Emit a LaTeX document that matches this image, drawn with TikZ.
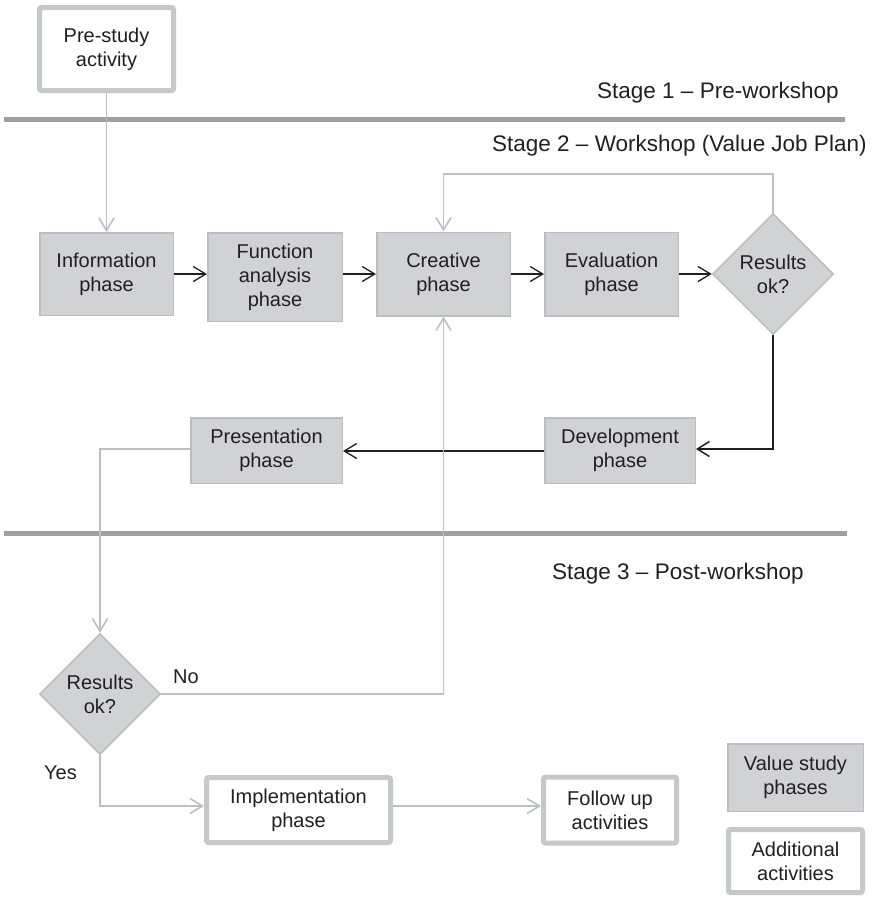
\documentclass[tikz,border=0pt]{standalone}
\usepackage{fontspec}
\setmainfont{Liberation Sans}
\usetikzlibrary{shapes.geometric,arrows.meta}

\definecolor{ink}{HTML}{231F20}
\definecolor{phasefill}{HTML}{D1D2D4}
\definecolor{phaseedge}{HTML}{BCBDC0}
\definecolor{extraedge}{HTML}{C7C8CA}
\definecolor{stagerule}{HTML}{9D9FA2}
\definecolor{flowgray}{HTML}{BEBFC1}

\begin{document}
\begin{tikzpicture}[x=1pt,y=-1pt,
  every node/.style={font=\fontsize{20}{24}\selectfont, text=ink, align=center, inner sep=0pt},
  phasebox/.style={rectangle, draw=phaseedge, fill=phasefill, line width=1.5pt},
  extrabox/.style={rectangle, draw=extraedge, fill=white, line width=5pt, rounded corners=2pt},
  decision/.style={diamond, draw=phaseedge, fill=phasefill, line width=1.5pt,
    minimum width=121pt, minimum height=121pt},
  stagetext/.style={font=\fontsize{22.5}{27}\selectfont, anchor=west},
  stagerule/.style={draw=stagerule, line width=5pt},
  barb/.style={-{Straight Barb[length=12.5pt,width=15pt]}},
  flow/.style={draw=ink, line width=1.3pt, barb},
  mainflow/.style={draw=ink, line width=2.3pt, -{Straight Barb[length=12pt,width=15pt,line width=1.5pt]}},
  grayflow/.style={draw=flowgray, line width=1.6pt, barb},
]
\useasboundingbox (0,0) rectangle (873,897);

% stage separators
\draw[stagerule] (4,119) -- (845,119);
\draw[stagerule] (4,533) -- (847,533);

% stage captions
\node[stagetext] (s1) at (597,93) {Stage 1 -- Pre-workshop};
\node[stagetext] (s2) at (492,146) {Stage 2 -- Workshop (Value Job Plan)};
\node[stagetext] (s3) at (552,574) {Stage 3 -- Post-workshop};

% additional activities
\node[extrabox, minimum width=134pt, minimum height=83pt] (pre) at (106.5,49) {Pre-study\\activity};
\node[extrabox, minimum width=184pt, minimum height=65pt] (impl) at (298.5,810) {Implementation\\phase};
\node[extrabox, minimum width=133pt, minimum height=66pt] (follow) at (610,810) {Follow up\\activities};

% value study phases
\node[phasebox, minimum width=133.5pt, minimum height=82.5pt] (info) at (106.5,274) {Information\\phase};
\node[phasebox, minimum width=134.5pt, minimum height=88.5pt] (func) at (275,277) {Function\\analysis\\phase};
\node[phasebox, minimum width=133.5pt, minimum height=83.5pt] (crea) at (443.5,274) {Creative\\phase};
\node[phasebox, minimum width=133.5pt, minimum height=83.5pt] (eval) at (611.5,274) {Evaluation\\phase};
\node[decision] (dec1) at (773,274) {Results\\ok?};
\node[phasebox, minimum width=150.5pt, minimum height=65.5pt] (dev) at (620,450.5) {Development\\phase};
\node[phasebox, minimum width=151.5pt, minimum height=65.5pt] (pres) at (266.5,450.5) {Presentation\\phase};
\node[decision] (dec2) at (100,694) {Results\\ok?};

% legend
\node[phasebox, minimum width=135.5pt, minimum height=67.5pt] (leg1) at (795.5,777.5) {Value study\\phases};
\node[extrabox, minimum width=134pt, minimum height=63pt] (leg2) at (795.5,861) {Additional\\activities};

% branch labels
\node[anchor=west] (no) at (173,677) {No};
\node (yes) at (60.5,773) {Yes};

% workshop flow
\coordinate (fbtop) at (443.5,174);
\draw[grayflow] (pre.south) -- (info.north);
\draw[flow] (info.east) -- (info.east -| func.west);
\draw[flow] (crea.west -| func.east) -- (crea.west);
\draw[flow] (crea.east) -- (eval.west);
\draw[flow] (eval.east) -- (dec1.west);
\draw[grayflow] (dec1.north) |- (fbtop) -- (crea.north);
\draw[mainflow] (dec1.south) |- ([yshift=1.5pt]dev.east);
\draw[flow] ([yshift=-0.5pt]dev.west) -- ([yshift=-0.5pt]pres.east);

% post-workshop flow
\draw[grayflow] ([yshift=1.5pt]pres.west) -| (dec2.north);
\draw[grayflow] (dec2.east) -| (crea.south);
\draw[grayflow] (dec2.south) |- ([yshift=4pt]impl.west);
\draw[grayflow] ([yshift=4pt]impl.east) -- ([yshift=4pt]follow.west);
\end{tikzpicture}
\end{document}
